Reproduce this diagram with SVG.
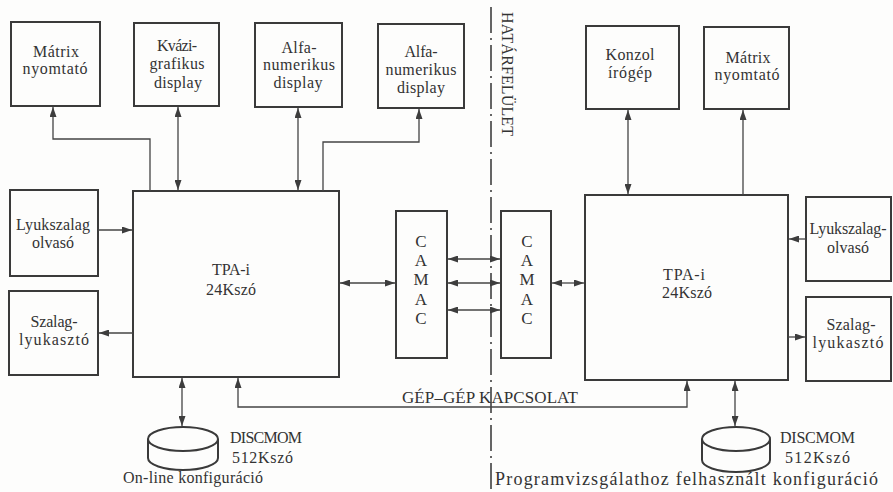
<svg xmlns="http://www.w3.org/2000/svg" width="893" height="492" viewBox="0 0 893 492">
<defs>
<marker id="arr" viewBox="0 0 10 7" refX="10" refY="3.5" markerWidth="10" markerHeight="7" markerUnits="userSpaceOnUse" orient="auto-start-reverse">
<path d="M0,0 L10,3.5 L0,7 z" fill="#3d3d3d"/>
</marker>
</defs>
<style>
.box{fill:none;stroke:#3a3a3a;stroke-width:2}
.t{font-family:"Liberation Serif","Times New Roman",serif;font-size:16px;fill:#333;text-anchor:middle}
.ts{font-family:"Liberation Serif","Times New Roman",serif;font-size:16px;fill:#333}
.cm{font-size:17px}
.big{font-size:18px}
.mid{font-size:17px}
.c{fill:none;stroke:#444;stroke-width:1.3}
.ab{marker-start:url(#arr);marker-end:url(#arr)}
.ae{marker-end:url(#arr)}
</style>
<rect width="893" height="492" fill="#fdfdfc"/>

<g id="boundary">
<line x1="491" y1="7" x2="491" y2="492" stroke="#333" stroke-width="1.5" stroke-dasharray="26 5 2 5"/>
<text class="ts" transform="translate(502,12) rotate(90)" textLength="124" lengthAdjust="spacing">HATÁRFELÜLET</text>
</g>

<g id="matrix-left"><rect class="box" x="11" y="22" width="89" height="84"/>
<text class="t" x="56" y="57" textLength="46">Mátrix</text><text class="t" x="55" y="74" textLength="65">nyomtató</text></g>
<g id="kvazi"><rect class="box" x="134" y="23" width="85" height="83"/>
<text class="t" x="177" y="51" textLength="40">Kvázi-</text><text class="t" x="177" y="69" textLength="55">grafikus</text><text class="t" x="178" y="88" textLength="48">display</text></g>
<g id="alfa1"><rect class="box" x="255" y="23" width="87" height="84"/>
<text class="t" x="299" y="53" textLength="35">Alfa-</text><text class="t" x="299" y="70" textLength="72">numerikus</text><text class="t" x="298" y="88" textLength="49">display</text></g>
<g id="alfa2"><rect class="box" x="378" y="24" width="86" height="84"/>
<text class="t" x="421" y="57" textLength="33">Alfa-</text><text class="t" x="421" y="75" textLength="71">numerikus</text><text class="t" x="421" y="93" textLength="48">display</text></g>
<g id="konzol"><rect class="box" x="586" y="26" width="93" height="83"/>
<text class="t" x="630" y="60" textLength="49">Konzol</text><text class="t" x="630" y="78" textLength="44">írógép</text></g>
<g id="matrix-right"><rect class="box" x="704" y="27" width="85" height="82"/>
<text class="t" x="748" y="63" textLength="45">Mátrix</text><text class="t" x="747" y="80" textLength="65">nyomtató</text></g>

<g id="lyuk-left"><rect class="box" x="10" y="190" width="88" height="86"/>
<text class="t" x="53" y="230" textLength="74">Lyukszalag</text><text class="t" x="53" y="248" textLength="42">olvasó</text></g>
<g id="szalag-left"><rect class="box" x="9" y="291" width="89" height="84"/>
<text class="t" x="54" y="327" textLength="47">Szalag-</text><text class="t" x="54" y="345" textLength="70">lyukasztó</text></g>

<g id="tpa-left"><rect class="box" x="133" y="191" width="206" height="186"/>
<text class="t" x="231" y="275" textLength="38">TPA-i</text><text class="t" x="231" y="295" textLength="50">24Kszó</text></g>

<g id="camac-left"><rect class="box" x="396" y="211" width="51" height="147"/>
<text class="t cm" x="421" y="247">C</text><text class="t cm" x="421" y="266">A</text><text class="t cm" x="421" y="285">M</text><text class="t cm" x="421" y="305">A</text><text class="t cm" x="421" y="324">C</text></g>
<g id="camac-right"><rect class="box" x="501" y="211" width="50" height="147"/>
<text class="t cm" x="527" y="247">C</text><text class="t cm" x="527" y="266">A</text><text class="t cm" x="527" y="285">M</text><text class="t cm" x="527" y="305">A</text><text class="t cm" x="527" y="324">C</text></g>

<g id="tpa-right"><rect class="box" x="585" y="195" width="203" height="185"/>
<text class="t" x="684" y="280" textLength="42">TPA-i</text><text class="t" x="687" y="298" textLength="50">24Kszó</text></g>

<g id="lyuk-right"><rect class="box" x="806" y="197" width="85" height="84"/>
<text class="t" x="848" y="234" textLength="77">Lyukszalag-</text><text class="t" x="848" y="253" textLength="42">olvasó</text></g>
<g id="szalag-right"><rect class="box" x="806" y="297" width="85" height="84"/>
<text class="t" x="851" y="330" textLength="49">Szalag-</text><text class="t" x="848" y="348" textLength="71">lyukasztó</text></g>

<g id="disk-left">
<path class="box" stroke-width="1.6" d="M148,439 A35,12 0 0 1 218,439 A35,12 0 0 1 148,439 Z M148,439 V458 A35,12 0 0 0 218,458 V439"/>
<text class="ts" x="230" y="443" textLength="72">DISCMOM</text><text class="ts" x="232" y="463" textLength="61">512Kszó</text>
</g>
<g id="disk-right">
<path class="box" stroke-width="1.6" d="M702,439 A34,12 0 0 1 770,439 A34,12 0 0 1 702,439 Z M702,439 V460 A34,12 0 0 0 770,460 V439"/>
<text class="ts" x="780" y="443" textLength="75">DISCMOM</text><text class="ts" x="785" y="463" textLength="65">512Kszó</text>
</g>

<g id="captions">
<text class="ts" x="123" y="483" textLength="140">On-line konfiguráció</text>
<text class="ts big" x="495" y="485" textLength="383">Programvizsgálathoz felhasznált konfiguráció</text>
<text class="ts mid" x="402" y="403" textLength="176">GÉP–GÉP KAPCSOLAT</text>
</g>

<g id="connectors">
<path class="c ae" d="M150,191 V139 H53 V107"/>
<path class="c ab" d="M178,107 V190"/>
<path class="c ab" d="M298,108 V190"/>
<path class="c ae" d="M323,191 V142 H419 V109"/>
<path class="c ae" d="M98,230 H132"/>
<path class="c ae" d="M133,333 H99"/>
<path class="c ab" d="M340,283 H395"/>
<path class="c ab" d="M448,259 H500"/>
<path class="c ab" d="M448,283 H500"/>
<path class="c ab" d="M448,310 H500"/>
<path class="c ab" d="M552,283 H584"/>
<path class="c ab" d="M628,110 V194"/>
<path class="c ae" d="M743,195 V110"/>
<path class="c ae" d="M806,239 H789"/>
<path class="c ae" d="M788,337 H805"/>
<path class="c ab" d="M182,378 V426"/>
<path class="c ab" d="M238,378 V407 H687 V381"/>
<path class="c ab" d="M735,381 V426"/>
</g>
</svg>
